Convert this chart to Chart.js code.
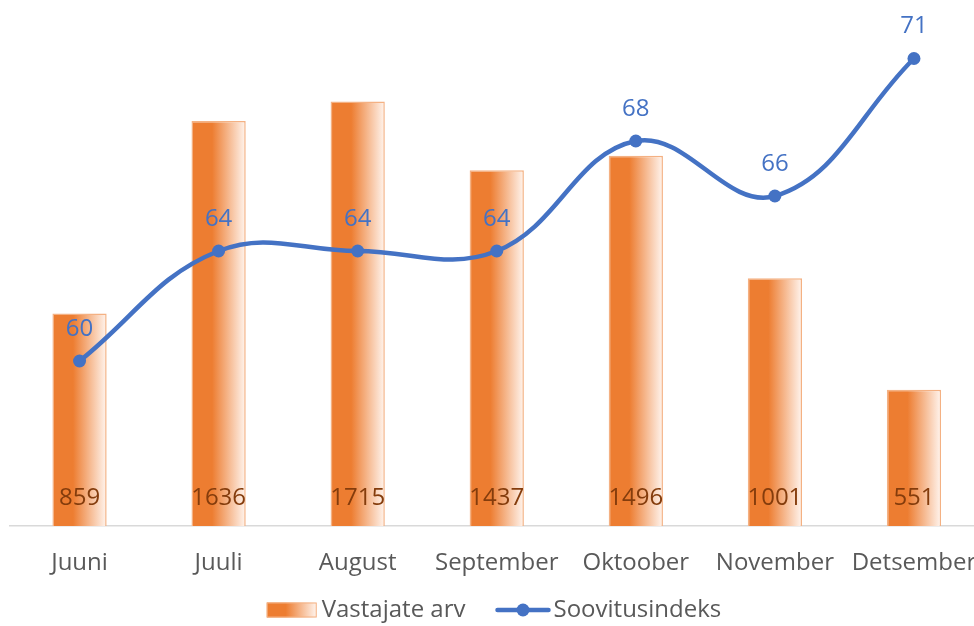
<!DOCTYPE html>
<html>
<head>
<meta charset="utf-8">
<script src="https://cdn.jsdelivr.net/npm/chart.js@4"></script>
<style>
html, body { margin: 0; padding: 0; background: #fff; overflow: hidden; }
#wrap { width: 990px; height: 626px; position: relative; }
</style>
</head>
<body>
<div id="wrap"><canvas id="chart"></canvas></div>
<script>
var months = ['Juuni', 'Juuli', 'August', 'September', 'Oktoober', 'November', 'Detsember'];
var respondents = [859, 1636, 1715, 1437, 1496, 1001, 551];
var npsIndex = [60, 64, 64, 64, 68, 66, 71];
var seriesNames = ['Vastajate arv', 'Soovitusindeks'];

var ORANGE = '#ED7D31', BLUE = '#4472C4', GREY = '#595959';
var FONT = '"Open Sans", "Noto Sans", sans-serif';

function barGradient(ctx, x0, x1) {
	var g = ctx.createLinearGradient(x0, 0, x1, 0);
	g.addColorStop(0, ORANGE);
	g.addColorStop(0.38, ORANGE);
	g.addColorStop(1, '#FFF5EF');
	return g;
}

var valueLabels = {
	id: 'valueLabels',
	afterDatasetsDraw: function(chart) {
		var ctx = chart.ctx;
		ctx.save();
		ctx.textAlign = 'center';
		ctx.textBaseline = 'middle';
		ctx.font = '24px ' + FONT;
		ctx.fillStyle = '#843C0C';
		chart.getDatasetMeta(1).data.forEach(function(b, i) {
			ctx.fillText(respondents[i], b.x, chart.chartArea.bottom - 28);
		});
		ctx.fillStyle = BLUE;
		chart.getDatasetMeta(0).data.forEach(function(p, i) {
			ctx.fillText(npsIndex[i], p.x, p.y - 32);
		});
		ctx.restore();
	}
};

// legend drawn by hand: gradient box for bars, line with dot for the line
var legendBox = {
	id: 'legendBox',
	afterDraw: function(chart) {
		var ctx = chart.ctx;
		ctx.save();
		ctx.font = '24px ' + FONT;
		ctx.textBaseline = 'middle';
		ctx.fillStyle = GREY;
		var w1 = ctx.measureText(seriesNames[0]).width;
		var w2 = ctx.measureText(seriesNames[1]).width;
		var total = 50 + 5 + w1 + 30 + 55 + 3 + w2;
		var x = 494 - total / 2, y = 610;

		ctx.fillStyle = barGradient(ctx, x, x + 50);
		ctx.fillRect(x, y - 7.5, 50, 15);
		ctx.strokeStyle = '#F4B183';
		ctx.lineWidth = 1;
		ctx.strokeRect(x + 0.5, y - 7, 49, 14);
		x += 55;
		ctx.fillStyle = GREY;
		ctx.fillText(seriesNames[0], x, y);
		x += w1 + 30;

		ctx.strokeStyle = BLUE;
		ctx.lineWidth = 4.5;
		ctx.lineCap = 'round';
		ctx.beginPath(); ctx.moveTo(x + 2, y); ctx.lineTo(x + 53, y); ctx.stroke();
		ctx.fillStyle = BLUE;
		ctx.beginPath(); ctx.arc(x + 27.5, y, 6.5, 0, Math.PI * 2); ctx.fill();
		x += 58;
		ctx.fillStyle = GREY;
		ctx.fillText(seriesNames[1], x, y);
		ctx.restore();
	}
};

var chart = new Chart(document.getElementById('chart'), {
	type: 'bar',
	data: {
		labels: months,
		datasets: [{
			type: 'line',
			label: seriesNames[1],
			data: npsIndex,
			yAxisID: 'y1',
			order: 0,
			borderColor: BLUE,
			borderWidth: 4.5,
			tension: 0.4,
			pointRadius: 6.5,
			pointBackgroundColor: BLUE,
			pointBorderWidth: 0,
			clip: false
		}, {
			type: 'bar',
			label: seriesNames[0],
			data: respondents,
			yAxisID: 'y',
			order: 1,
			categoryPercentage: 1,
			barPercentage: 0.39,
			borderColor: '#F4B183',
			borderWidth: 1.5,
			borderSkipped: 'bottom',
			backgroundColor: function(context) {
				var chart = context.chart;
				if (!chart.chartArea || !chart.scales.x) return ORANGE;
				var x = chart.scales.x.getPixelForValue(context.dataIndex);
				var w = chart.scales.x.width / months.length * 0.39;
				return barGradient(chart.ctx, x - w / 2, x + w / 2);
			}
		}]
	},
	options: {
		responsive: true,
		maintainAspectRatio: false,
		animation: false,
		devicePixelRatio: 1,
		layout: { padding: { left: 10, right: 5, top: 31, bottom: 48 } },
		scales: {
			x: {
				grid: { display: false, drawTicks: false },
				border: { display: true, color: '#D9D9D9', width: 1.5 },
				ticks: { color: GREY, font: { family: FONT, size: 24 }, padding: 23, maxRotation: 0, autoSkip: false },
				afterFit: function(scale) {
					scale.height = 52;
					scale.paddingLeft = 0;
					scale.paddingRight = 0;
				}
			},
			y: { display: false, min: 0, max: 2000 },
			y1: { display: false, min: 54, max: 72 }
		},
		plugins: {
			tooltip: { enabled: false },
			legend: { display: false }
		}
	},
	plugins: [valueLabels, legendBox]
});
</script>
</body>
</html>
